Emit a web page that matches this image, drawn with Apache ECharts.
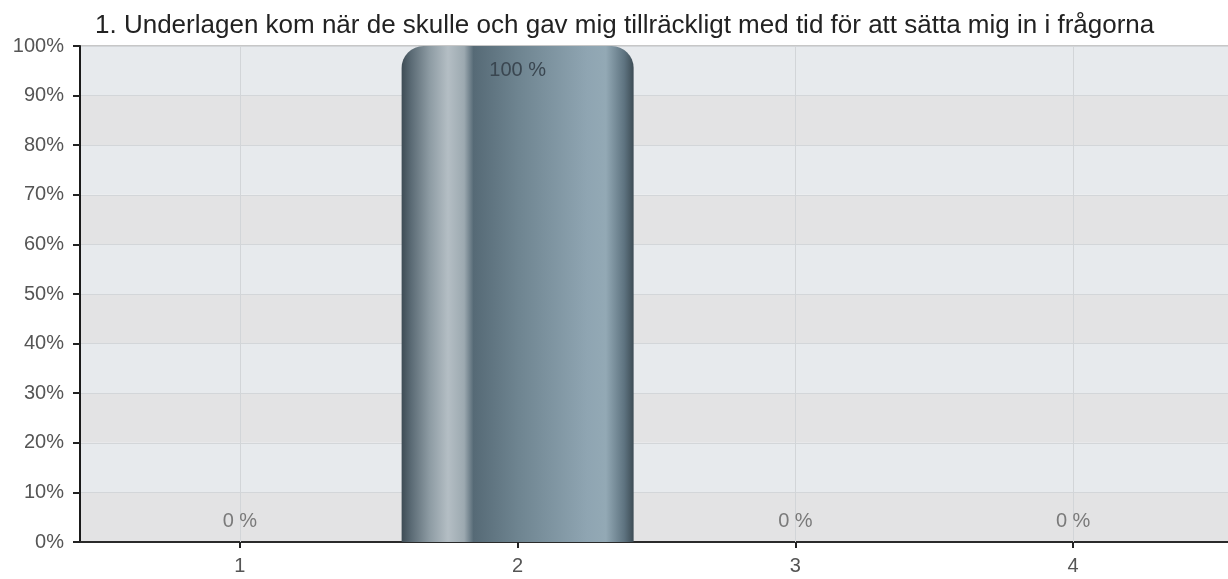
<!DOCTYPE html>
<html>
<head>
<meta charset="utf-8">
<script src="https://cdn.jsdelivr.net/npm/echarts@6/dist/echarts.min.js"></script>
<style>
html,body{margin:0;padding:0;background:#fff;}
#chart{width:1228px;height:579px;}
</style>
</head>
<body>
<div id="chart"></div>
<script>
const titleText = "1. Underlagen kom när de skulle och gav mig tillräckligt med tid för att sätta mig in i frågorna";
const categories = [1, 2, 3, 4];
const percentValues = [0, 100, 0, 0];
const yTicks = [0, 10, 20, 30, 40, 50, 60, 70, 80, 90, 100];

const chart = echarts.init(document.getElementById('chart'));

const barGradient = new echarts.graphic.LinearGradient(0, 0, 1, 0, [
  {offset: 0, color: '#3e4c55'},
  {offset: 0.04, color: '#5a6a74'},
  {offset: 0.12, color: '#8d9ba3'},
  {offset: 0.2, color: '#b4bec4'},
  {offset: 0.27, color: '#9ca9b0'},
  {offset: 0.31, color: '#566a76'},
  {offset: 0.5, color: '#6e8490'},
  {offset: 0.8, color: '#8fa5b2'},
  {offset: 0.88, color: '#93a9b5'},
  {offset: 0.96, color: '#5e7380'},
  {offset: 1, color: '#3d4c55'}
]);

const barData = categories.map((c, i) => {
  const v = percentValues[i];
  return {
    value: [c, v],
    label: v >= 50
      ? {show: true, position: 'insideTop', distance: 14, color: '#3a4650', fontSize: 20}
      : {show: true, position: 'top', distance: 11, color: '#7a7a7a', fontSize: 20}
  };
});

const xMin = 1 - 160 / 278;
const xMax = xMin + 1149 / 278;

chart.setOption({
  animation: false,
  textStyle: {fontFamily: 'Liberation Sans, Arial, sans-serif'},
  title: {
    text: titleText,
    left: 90,
    top: 8,
    textStyle: {fontSize: 26, fontWeight: 'normal', color: '#222', fontFamily: 'Liberation Sans, Arial, sans-serif'}
  },
  grid: {
    left: 80, right: -1, top: 46, bottom: 37,
    show: true, borderColor: '#8e8e8e', borderWidth: 1, backgroundColor: 'transparent'
  },
  xAxis: {
    type: 'value',
    min: xMin,
    max: xMax,
    axisLine: {show: true, lineStyle: {color: '#2a2a2a', width: 2}},
    axisTick: {show: true, length: 6, lineStyle: {color: '#222', width: 2}, customValues: categories},
    axisLabel: {show: true, customValues: categories, color: '#555', fontSize: 20, margin: 14,
      formatter: v => String(Math.round(v))},
    splitLine: {show: false},
    splitArea: {show: false}
  },
  yAxis: {
    type: 'value',
    min: 0,
    max: 100,
    interval: 10,
    axisLine: {show: true, lineStyle: {color: '#1a1a1a', width: 2}},
    axisTick: {show: true, length: 7, lineStyle: {color: '#222', width: 2}},
    axisLabel: {color: '#555', fontSize: 20, margin: 16, formatter: '{value}%'},
    splitLine: {show: true, lineStyle: {color: '#d3d6d9', width: 1}},
    splitArea: {show: true, areaStyle: {color: ['#e3e3e4', '#e7eaed']}}
  },
  series: [
    {
      type: 'line',
      data: [],
      z: 1,
      silent: true,
      markLine: {
        silent: true,
        z: 1,
        symbol: ['none', 'none'],
        label: {show: false},
        lineStyle: {color: '#d2d5d8', width: 1, type: 'solid'},
        data: categories.map(c => ({xAxis: c}))
      }
    },
    {
      type: 'bar',
      z: 3,
      barWidth: 232,
      data: barData,
      itemStyle: {color: barGradient, borderRadius: [22, 22, 0, 0]},
      label: {formatter: p => p.value[1] + ' %'}
    }
  ]
});
</script>
</body>
</html>
